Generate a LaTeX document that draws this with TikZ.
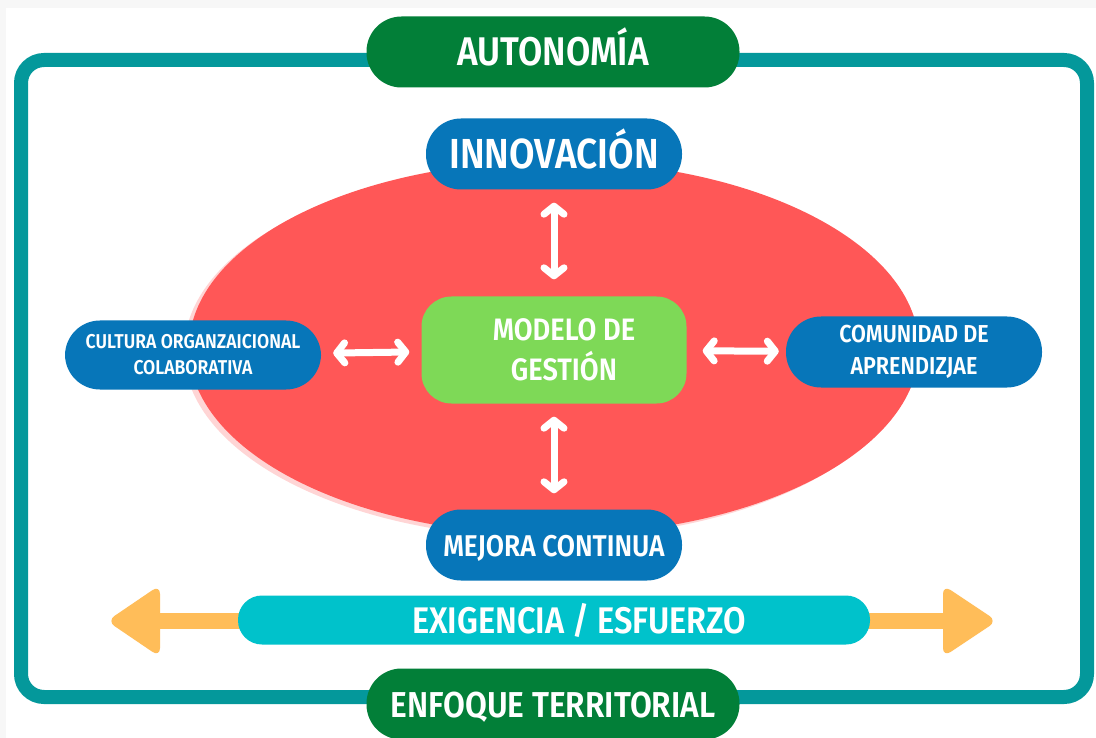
\documentclass[tikz,border=0pt]{standalone}
\usepackage{fontspec}
\usepackage{tikz}
\usetikzlibrary{arrows.meta}
\newfontfamily\pillfont{Fira Sans}[FakeStretch=0.88, BoldFont={Fira Sans SemiBold}]
\definecolor{marco}{RGB}{4,152,155}
\definecolor{verdeosc}{RGB}{2,127,56}
\definecolor{azul}{RGB}{7,118,185}
\definecolor{rojo}{RGB}{255,87,87}
\definecolor{verdecl}{RGB}{126,217,87}
\definecolor{cian}{RGB}{0,194,203}
\definecolor{naranja}{RGB}{255,189,89}
\tikzset{
  pill/.style={rounded corners=35pt, minimum height=71pt, minimum width=256pt,
    inner sep=0pt, text=white, align=center},
  flecha/.style={draw=white, line width=7pt,
    {Straight Barb[round,length=8pt,width=20pt]}-{Straight Barb[round,length=8pt,width=20pt]}},
}
\newcommand{\fs}[1]{\pillfont\bfseries\fontsize{#1}{#1}\selectfont}

\begin{document}
\begin{tikzpicture}[x=1pt,y=-1pt]
        %FONDO
        \useasboundingbox (0,0) rectangle (1096,738);
        \fill[black!3] (0,0) rectangle (1096,738);
        \fill[white] (6,8) rectangle (1096,738);
        %MARCO
        \draw[marco, line width=14pt, rounded corners=23pt] (21,60) rectangle (1087,697);
        %ELIPSE
        \fill[rojo!25] (549,351) ellipse (365 and 187);
        \fill[rojo] (554,348) ellipse (365 and 187);
        %NODOS
        \node[pill, fill=verdeosc, minimum width=373pt, font=\fs{40},
          text height=28pt, text depth=0pt] (autonomia) at (553,52) {AUTONOMÍA};
        \node[pill, fill=verdeosc, minimum width=373pt, font=\fs{36},
          text height=26pt, text depth=0pt] (enfoque) at (553,704) {ENFOQUE TERRITORIAL};
        \node[pill, fill=azul, font=\fs{42},
          text height=29pt, text depth=0pt] (innovacion) at (554,154) {INNOVACIÓN};
        \node[pill, fill=azul, font=\fs{30},
          text height=22pt, text depth=0pt] (mejora) at (554,545) {MEJORA CONTINUA};
        \node[pill, fill=azul, minimum height=69pt, font=\fs{20}] (cultura) at (193,355)
          {CULTURA ORGANZAICIONAL\\[6pt]COLABORATIVA};
        \node[pill, fill=azul, font=\fs{24.5}] (comunidad) at (914,352)
          {COMUNIDAD DE\\[8pt]APRENDIZJAE};
        \node[pill, fill=verdecl, rounded corners=30pt, minimum width=265pt,
          minimum height=107pt, font=\fs{31}] (modelo) at (554,350)
          {\hspace*{20pt}MODELO DE\\[9pt]\hspace*{20pt}GESTIÓN};
        %FLECHAS BLANCAS
        \draw[flecha, shorten <=13pt, shorten >=17pt] (innovacion) -- (modelo);
        \draw[flecha, shorten <=13pt, shorten >=16pt] (modelo) -- (mejora);
        \draw[flecha, shorten <=12pt, shorten >=12pt] (cultura) -- (modelo);
        \draw[flecha, shorten <=16pt, shorten >=7pt] (modelo) -- (comunidad);
        %FLECHAS NARANJAS
        \coordinate (puntaI) at (107,621);
        \coordinate (puntaD) at (997,621);
        \draw[naranja, line width=16pt, line cap=round] (554,621) -- (150,621);
        \draw[naranja, line width=16pt, line cap=round] (554,621) -- (950,621);
        \fill[naranja, rounded corners=9pt] (puntaI) -- (160,585) -- (160,657) -- cycle;
        \fill[naranja, rounded corners=9pt] (puntaD) -- (943,585) -- (943,657) -- cycle;
        \node[pill, fill=cian, minimum width=632pt, minimum height=49pt,
          rounded corners=24pt, font=\fs{37}, text height=26pt, text depth=0pt]
          (exigencia) at (554,620) {\hspace*{50pt}EXIGENCIA / ESFUERZO};
    \end{tikzpicture}
\end{document}
